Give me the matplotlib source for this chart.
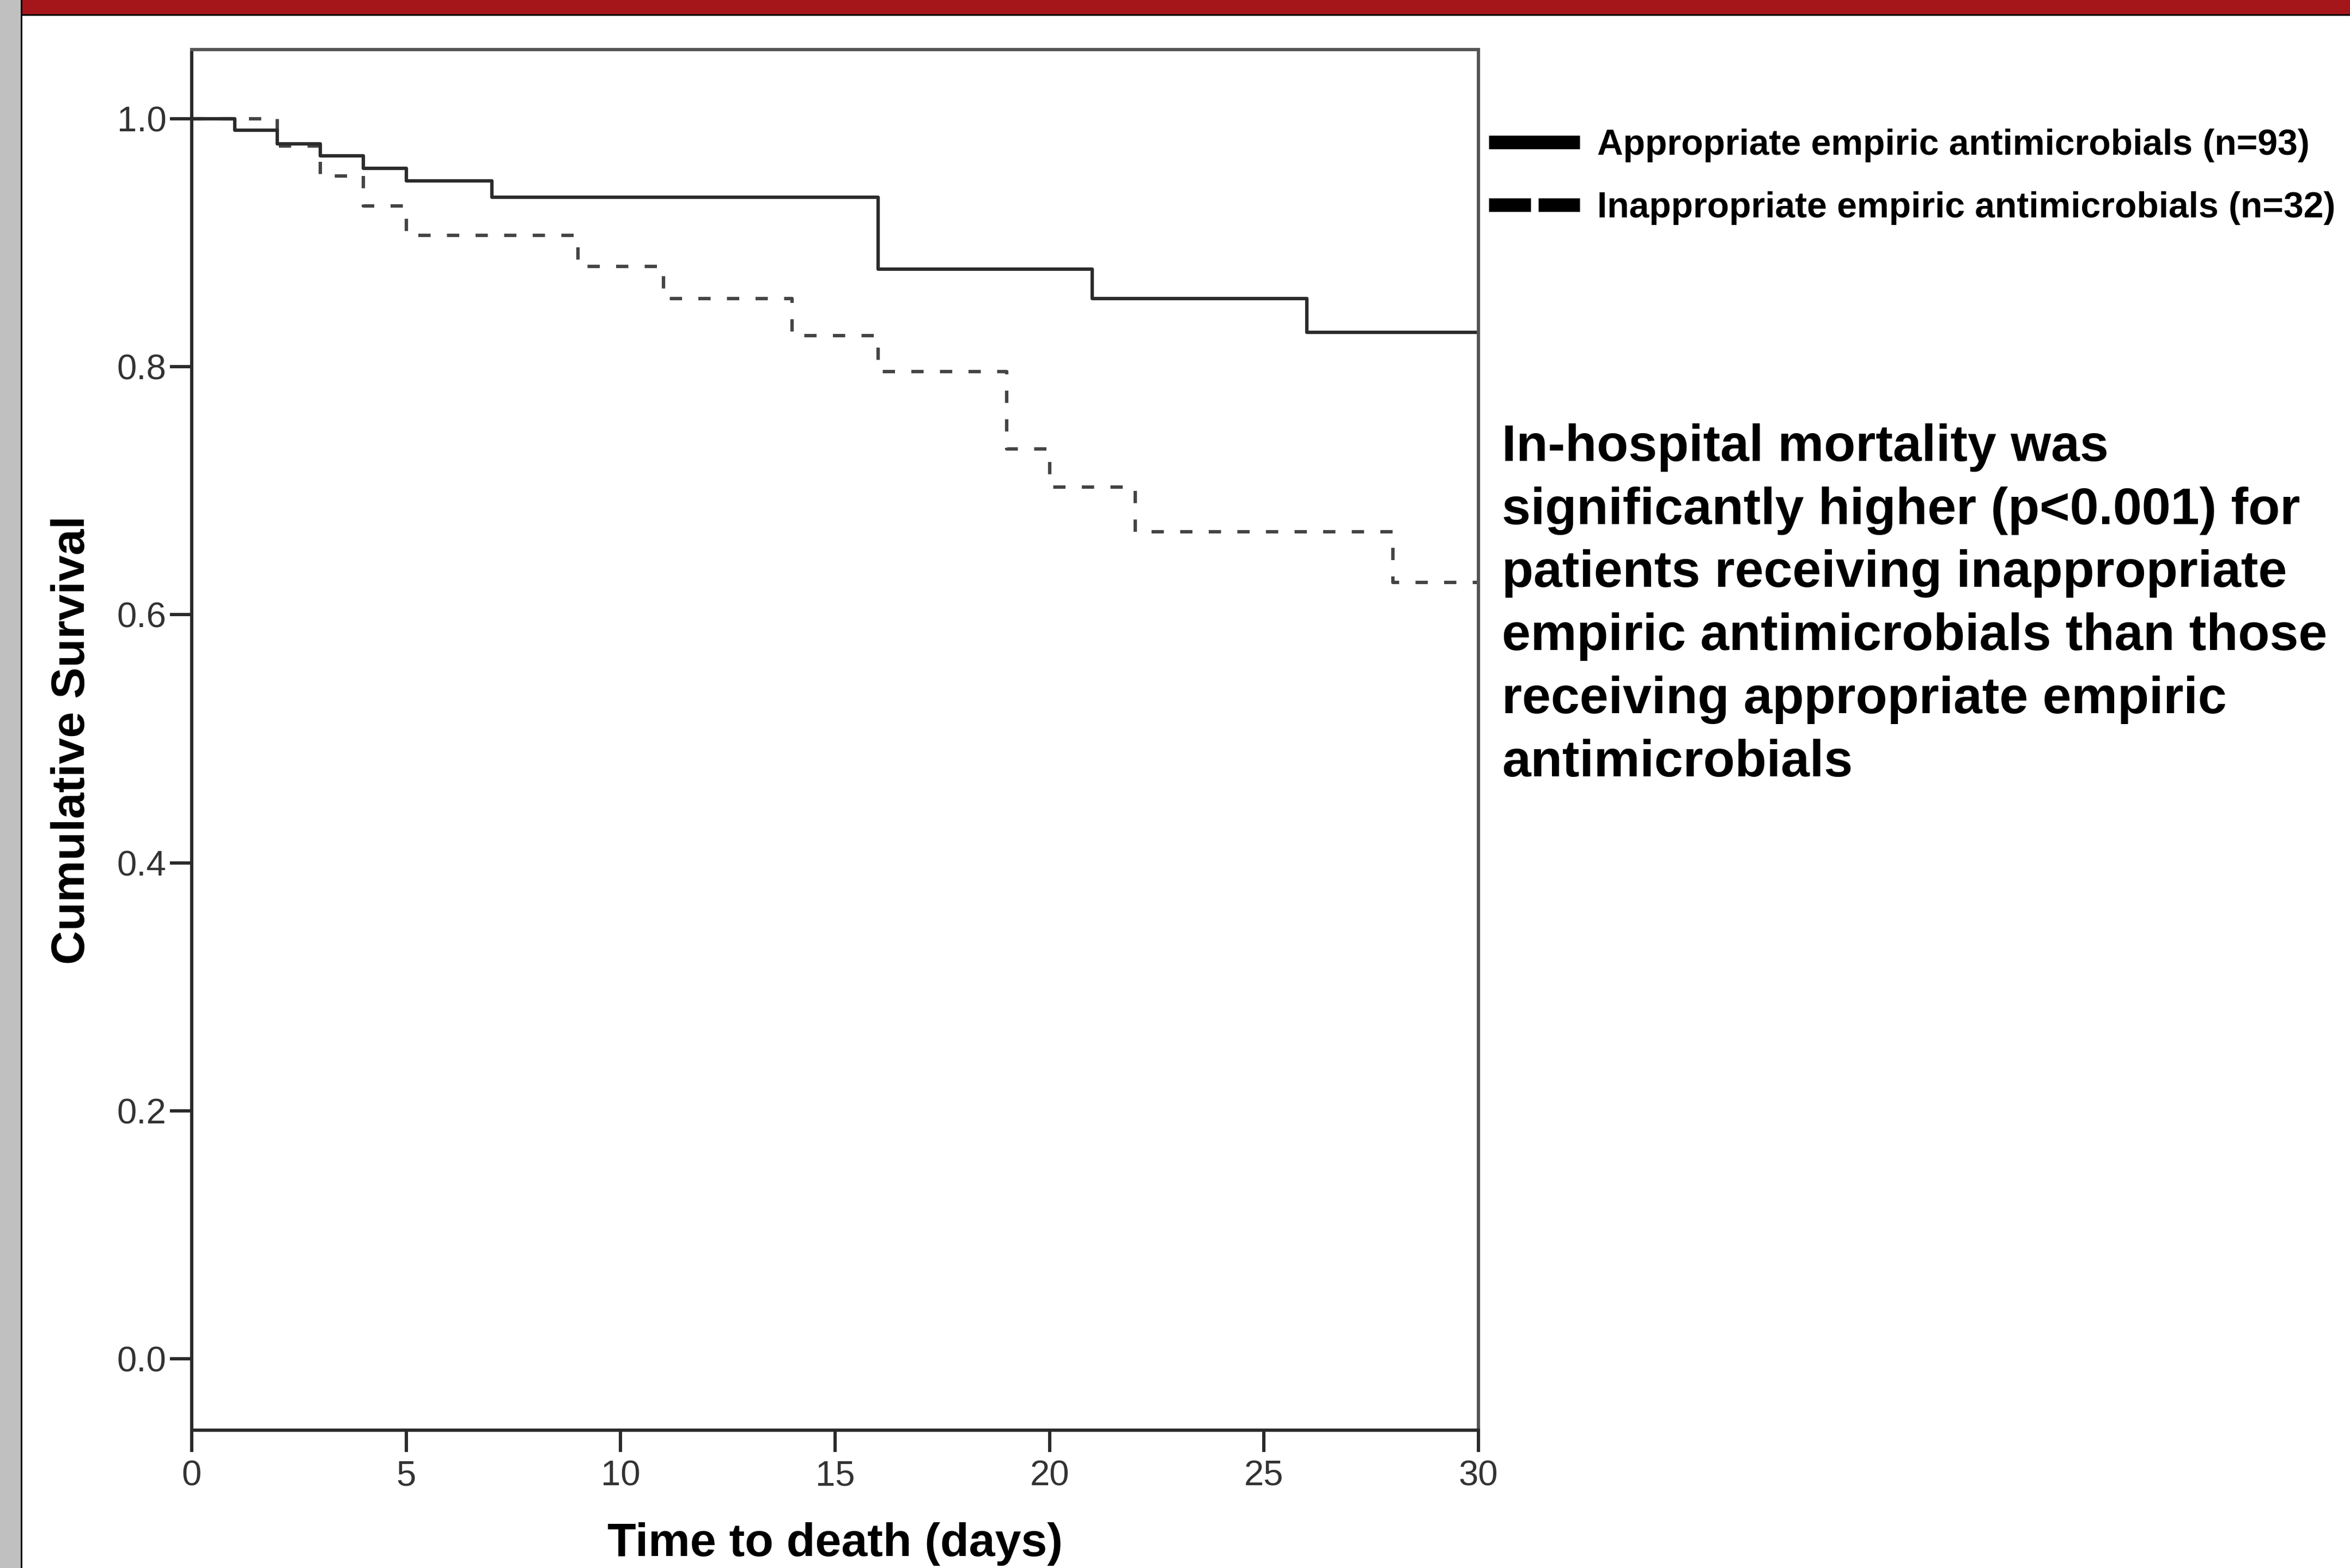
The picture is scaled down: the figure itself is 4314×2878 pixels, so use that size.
import matplotlib
matplotlib.use("Agg")
import matplotlib.pyplot as plt
from matplotlib.lines import Line2D
from matplotlib.patches import Rectangle

# Kaplan-Meier step data (day of drop, survival after the drop)
appr_days = [0, 1, 2, 3, 4, 5, 7, 16, 21, 26, 30]
appr_surv = [1.0, 0.991, 0.980, 0.970, 0.960, 0.950, 0.937, 0.879, 0.855, 0.828, 0.828]

inappr_days = [0, 2, 3, 4, 5, 9, 11, 14, 16, 19, 20, 22, 28, 30]
inappr_surv = [1.0, 0.978, 0.954, 0.930, 0.906, 0.881, 0.855, 0.825, 0.796, 0.734, 0.703, 0.667, 0.626, 0.626]

x_ticks = [0, 5, 10, 15, 20, 25, 30]
y_ticks = [0.0, 0.2, 0.4, 0.6, 0.8, 1.0]
y_tick_labels = ["0.0", "0.2", "0.4", "0.6", "0.8", "1.0"]

legend_labels = [
    "Appropriate empiric antimicrobials (n=93)",
    "Inappropriate empiric antimicrobials (n=32)",
]
note = ("In-hospital mortality was\n"
        "significantly higher (p<0.001) for\n"
        "patients receiving inappropriate\n"
        "empiric antimicrobials than those\n"
        "receiving appropriate empiric\n"
        "antimicrobials")

plt.rcParams["font.family"] = ["Liberation Sans", "DejaVu Sans"]

W, H = 4314, 2878
fig = plt.figure(figsize=(W / 100, H / 100), dpi=100)
fig.patch.set_facecolor("white")

# page decorations: grey strip on the left, red banner on top
fig.add_artist(Rectangle((0, 0), 38 / W, 1, transform=fig.transFigure, color="#c0c0c0", lw=0))
fig.add_artist(Rectangle((38 / W, 0), 3 / W, 1, transform=fig.transFigure, color="black", lw=0))
fig.add_artist(Rectangle((41 / W, 1 - 26 / H), 1, 26 / H, transform=fig.transFigure, color="#a5161a", lw=0))
fig.add_artist(Rectangle((41 / W, 1 - 29 / H), 1, 3 / H, transform=fig.transFigure, color="black", lw=0))

ax = fig.add_axes([352 / W, (H - 2625) / H, (2714 - 352) / W, (2625 - 91) / H])

ax.step(inappr_days, inappr_surv, where="post", color="#444444", lw=4.5,
        linestyle=(0, (3.6, 4.8)), dash_capstyle="butt")
ax.step(appr_days, appr_surv, where="post", color="#2b2b2b", lw=4.5)

ax.set_xlim(0, 30)
ax.set_ylim(-0.0576, 1.0559)
ax.set_xticks(x_ticks)
ax.set_xticklabels([str(t) for t in x_ticks])
ax.set_yticks(y_ticks)
ax.set_yticklabels(y_tick_labels)

for side in ["left", "bottom"]:
    ax.spines[side].set_color("#2a2a2a")
    ax.spines[side].set_linewidth(4.3)
for side in ["top", "right"]:
    ax.spines[side].set_color("#555555")
    ax.spines[side].set_linewidth(4.3)

ax.tick_params(axis="both", direction="out", length=28.5, width=4.3, color="#2a2a2a",
               labelsize=47, labelcolor="#333333")
ax.tick_params(axis="x", pad=10.5)
ax.tick_params(axis="y", pad=5)

ax.set_xlabel("Time to death (days)", fontsize=62, fontweight="bold")
ax.set_ylabel("Cumulative Survival", fontsize=62, fontweight="bold")
ax.xaxis.set_label_coords(0.5, -0.0668)
ax.yaxis.set_label_coords(-0.0758, 0.5)

handles = [
    Line2D([], [], color="black", lw=18, solid_capstyle="butt"),
    Line2D([], [], color="black", lw=18, linestyle=(0, (3.08, 0.56)), dash_capstyle="butt"),
]
fig.legend(handles, legend_labels, loc="upper left", bbox_to_anchor=(2733 / W, 1 - 236 / H),
           frameon=False, borderpad=0, borderaxespad=0, handlelength=2.53,
           handletextpad=0.48, labelspacing=0.8,
           prop={"size": 47.5, "weight": "bold"})

fig.text(2757 / W, 1 - 777 / H, note, ha="left", va="top", fontsize=68.4,
         fontweight="bold", linespacing=1.387)

fig.savefig("out.png", dpi=100)
